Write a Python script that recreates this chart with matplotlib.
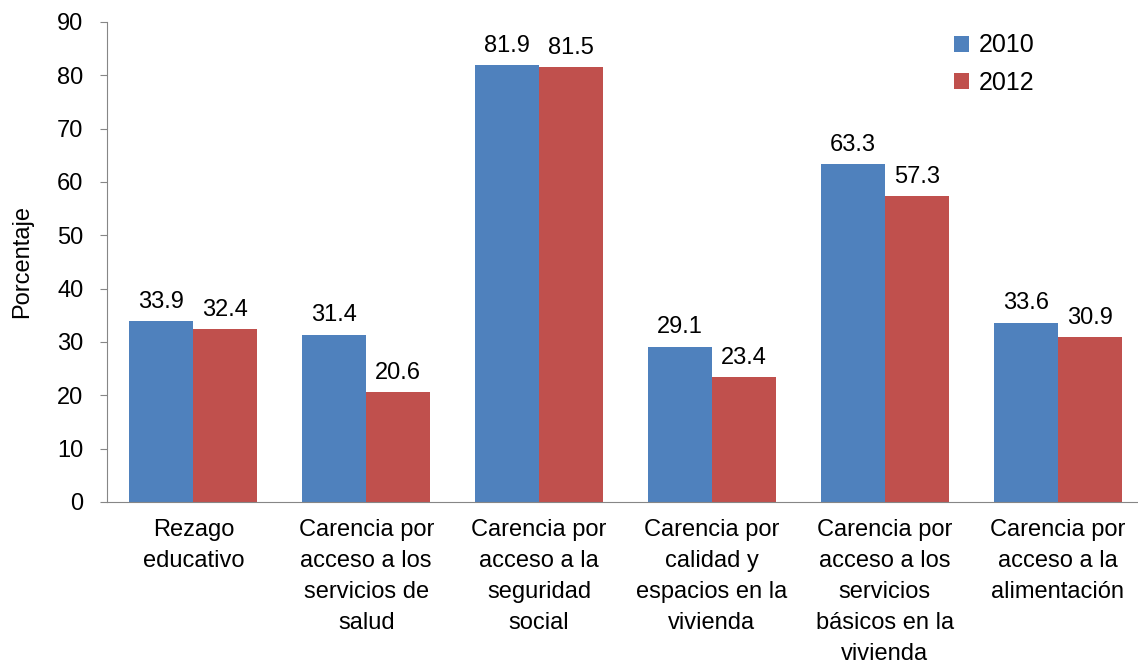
import matplotlib
matplotlib.use("Agg")
import matplotlib.pyplot as plt
import numpy as np

plt.rcParams['font.family'] = ['Liberation Sans', 'DejaVu Sans']

categories = ["Rezago\neducativo",
              "Carencia por\nacceso a los\nservicios de\nsalud",
              "Carencia por\nacceso a la\nseguridad\nsocial",
              "Carencia por\ncalidad y\nespacios en la\nvivienda",
              "Carencia por\nacceso a los\nservicios\nbásicos en la\nvivienda",
              "Carencia por\nacceso a la\nalimentación"]
v2010 = [33.9, 31.4, 81.9, 29.1, 63.3, 33.6]
v2012 = [32.4, 20.6, 81.5, 23.4, 57.3, 30.9]
yticks = list(range(0, 100, 10))

FS = 17
fig = plt.figure(figsize=(11.38, 6.68), dpi=100)
ax = fig.add_axes([107/1138, 1-502/668, 1037/1138, (502-22)/668])

x = np.arange(len(categories))
w = 0.37
b1 = ax.bar(x - w/2, v2010, w, color='#4F81BD', label='2010')
b2 = ax.bar(x + w/2, v2012, w, color='#C0504D', label='2012')
for bars, vals in ((b1, v2010), (b2, v2012)):
    for r, v in zip(bars, vals):
        ax.annotate(f"{v:.1f}", (r.get_x() + r.get_width()/2, v),
                    xytext=(0, 6), textcoords='offset points',
                    ha='center', va='bottom', fontsize=FS)

ax.set_xlim(-0.5, len(categories) - 0.5)
ax.set_ylim(0, 90)
ax.set_yticks(yticks)
ax.set_xticks(x)
ax.set_xticklabels(categories, fontsize=FS, linespacing=1.53)
ax.tick_params(axis='x', length=0, pad=12)
ax.tick_params(axis='y', labelsize=FS, length=5, color='#868686', pad=12)
ax.spines['top'].set_visible(False)
ax.spines['right'].set_visible(False)
for s in ('left', 'bottom'):
    ax.spines[s].set_color('#868686')
ax.set_ylabel('Porcentaje', fontsize=FS, labelpad=17)
ax.legend(loc='upper left', bbox_to_anchor=(0.795, 1.023), frameon=False,
          fontsize=FS + 1, handlelength=0.6, handleheight=0.6, labelspacing=0.55,
          handletextpad=0.4)

fig.savefig('out.png', dpi=100)
